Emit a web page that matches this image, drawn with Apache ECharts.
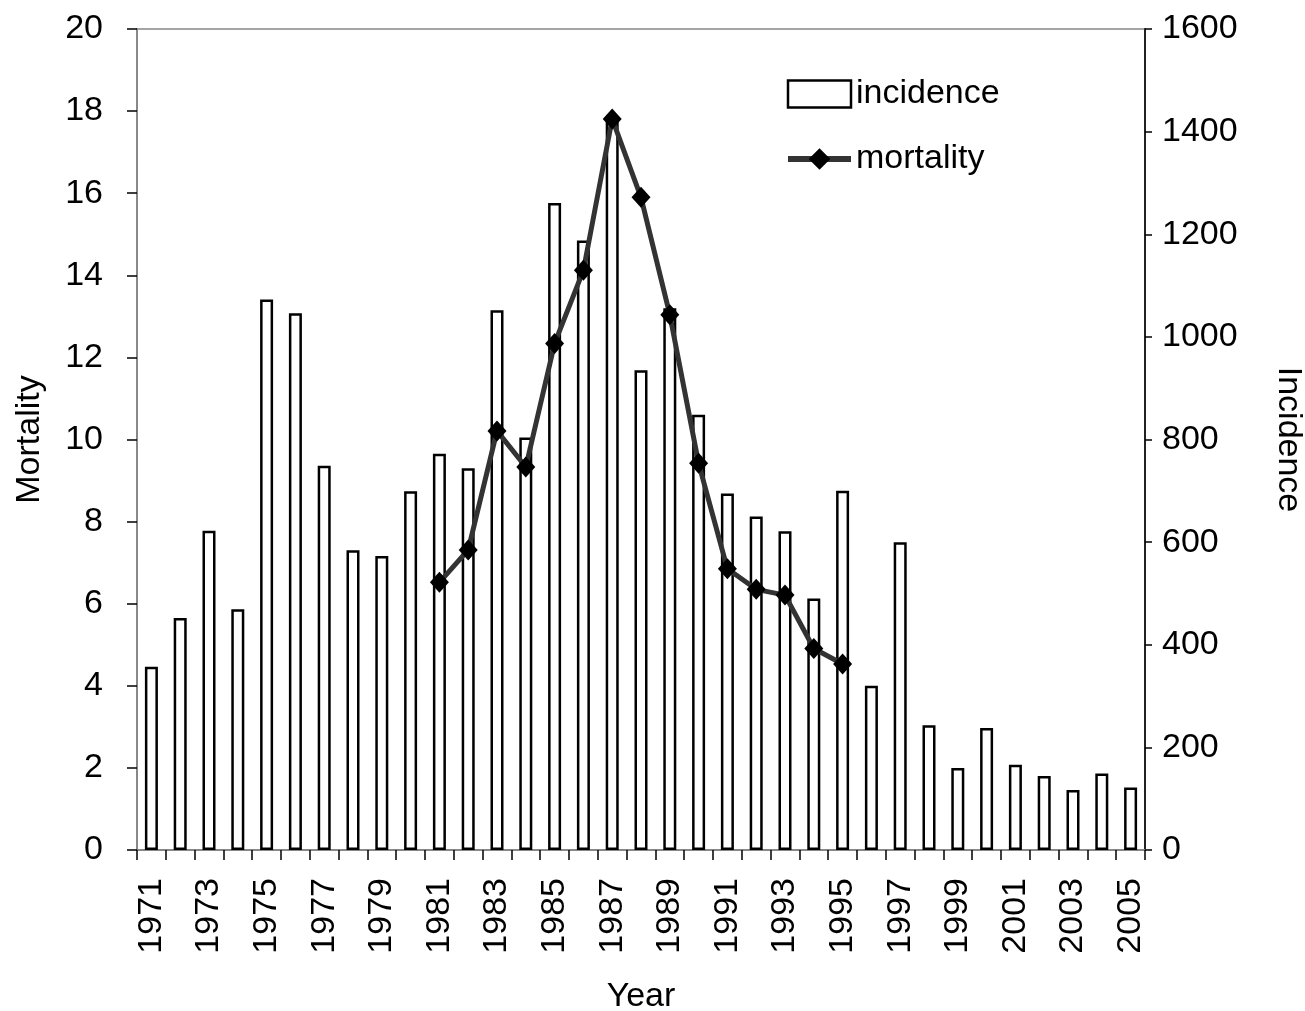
<!DOCTYPE html>
<html>
<head>
<meta charset="utf-8">
<script src="https://cdn.jsdelivr.net/npm/echarts@6/dist/echarts.min.js"></script>
<style>
  html, body { margin: 0; padding: 0; background: #fff; }
  #main { width: 1305px; height: 1011px; }
</style>
</head>
<body>
<div id="main"></div>
<script>
// years on the x axis
const years = [];
for (let y = 1971; y <= 2005; y += 1) years.push(String(y));

// incidence (right axis), one bar per year
const incidence = [357, 452, 622, 469, 1073, 1046, 749, 584, 573, 699,
  772, 744, 1052, 804, 1261, 1188, 1420, 935, 1056, 848,
  695, 650, 621, 490, 700, 320, 600, 243, 160, 238,
  166, 144, 117, 149, 122];

// mortality (left axis), only 1981-1995
const mortality = [null, null, null, null, null, null, null, null, null, null,
  6.52, 7.31, 10.21, 9.33, 12.34, 14.12, 17.81, 15.9, 13.04, 9.42,
  6.85, 6.35, 6.21, 4.91, 4.53,
  null, null, null, null, null, null, null, null, null, null];

const FONT = 'Liberation Sans';
const FS = 34;

const myChart = echarts.init(document.getElementById('main'), null, { renderer: 'canvas' });
const option = {
  animation: false,
  backgroundColor: '#fff',
  textStyle: { fontFamily: FONT },
  grid: {
    left: 137, right: 160, top: 29, bottom: 161,
    outerBoundsMode: 'none',
    containLabel: false,
    show: true, borderColor: '#888', borderWidth: 1.5,
  },
  legend: {
    orient: 'vertical',
    left: 785,
    top: 77,
    padding: 0,
    itemWidth: 63,
    itemHeight: 27,
    itemGap: 31,
    textStyle: { fontSize: FS, color: '#000', fontFamily: FONT },
    data: [
      { name: 'incidence', icon: 'rect', itemStyle: { color: '#fff', borderColor: '#000', borderWidth: 2.5 } },
      { name: 'mortality', lineStyle: { color: '#333', width: 6 } },
    ],
  },
  xAxis: {
    type: 'category',
    data: years,
    boundaryGap: true,
    name: 'Year',
    nameLocation: 'middle',
    nameGap: 130,
    nameTextStyle: { fontSize: FS, color: '#000' },
    axisLine: { lineStyle: { color: '#888', width: 2 } },
    axisTick: { show: true, interval: 0, length: 10, inside: false, lineStyle: { color: '#000', width: 1.5 } },
    axisLabel: { interval: 1, rotate: 90, margin: 28, fontSize: FS, color: '#000' },
  },
  yAxis: [
    {
      type: 'value',
      min: 0, max: 20, interval: 2,
      name: 'Mortality',
      nameLocation: 'middle',
      nameRotate: 90,
      nameGap: 90,
      nameTextStyle: { fontSize: FS, color: '#000' },
      splitLine: { show: false },
      axisLine: { show: true, lineStyle: { color: '#888', width: 2 } },
      axisTick: { show: true, length: 10, lineStyle: { color: '#000', width: 1.5 } },
      axisLabel: { margin: 34, fontSize: FS, color: '#000' },
    },
    {
      type: 'value',
      min: 0, max: 1600, interval: 200,
      position: 'right',
      name: 'Incidence',
      nameLocation: 'middle',
      nameRotate: -90,
      nameGap: 126,
      nameTextStyle: { fontSize: FS, color: '#000' },
      splitLine: { show: false },
      axisLine: { show: true, lineStyle: { color: '#222', width: 2 } },
      axisTick: { show: true, length: 7, lineStyle: { color: '#000', width: 1.5 } },
      axisLabel: { margin: 17, fontSize: FS, color: '#000', formatter: v => String(v) },
    },
  ],
  series: [
    {
      name: 'incidence',
      type: 'bar',
      yAxisIndex: 1,
      data: incidence,
      barWidth: 13,
      itemStyle: { color: '#fff', borderColor: '#000', borderWidth: 2.5 },
    },
    {
      name: 'mortality',
      type: 'line',
      yAxisIndex: 0,
      data: mortality,
      connectNulls: false,
      showAllSymbol: true,
      symbol: 'diamond',
      symbolSize: [19, 21],
      lineStyle: { color: '#333', width: 5 },
      itemStyle: { color: '#000' },
      z: 5,
    },
  ],
};
myChart.setOption(option);
</script>
</body>
</html>
